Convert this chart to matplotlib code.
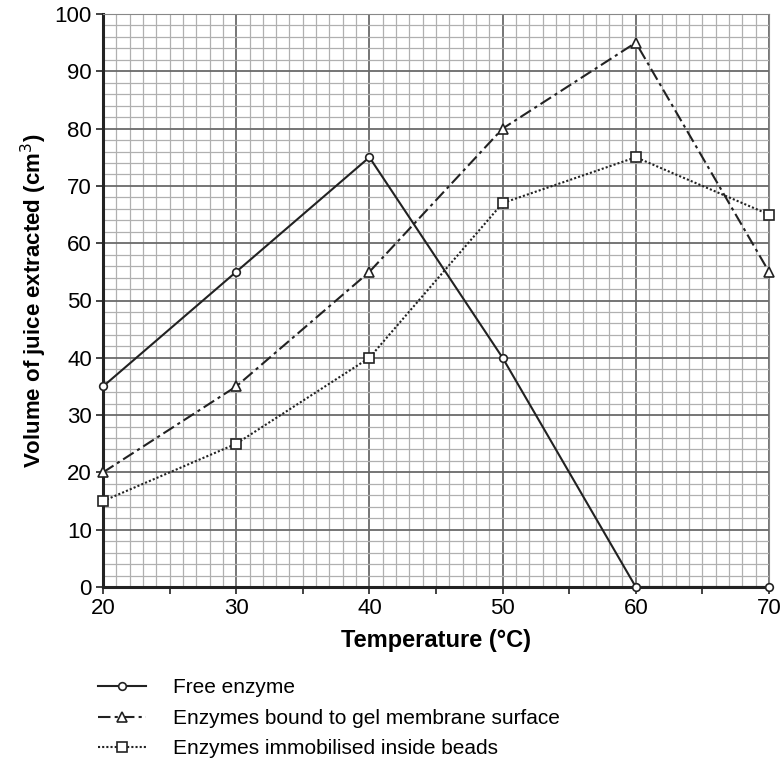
import matplotlib
matplotlib.use("Agg")
import matplotlib.pyplot as plt
from matplotlib.ticker import MultipleLocator, NullFormatter

plt.rcParams['font.family'] = ['Liberation Sans', 'DejaVu Sans']

temperature = [20, 30, 40, 50, 60, 70]
free_enzyme = [35, 55, 75, 40, 0, 0]
bound_gel = [20, 35, 55, 80, 95, 55]
beads = [15, 25, 40, 67, 75, 65]
labels = ["Free enzyme", "Enzymes bound to gel membrane surface",
          "Enzymes immobilised inside beads"]
half_ticks = [25, 35, 45, 55, 65]

fig = plt.figure(figsize=(7.84, 7.69), dpi=100)
ax = fig.add_axes([103/784, 1-587/769, 666/784, 573/769])

ax.set_xlim(20, 70)
ax.set_ylim(0, 100)
ax.xaxis.set_major_locator(MultipleLocator(10))
ax.xaxis.set_minor_locator(MultipleLocator(1))
ax.yaxis.set_major_locator(MultipleLocator(10))
ax.yaxis.set_minor_locator(MultipleLocator(2))
ax.grid(which='minor', color='#b0b0b0', linewidth=0.9)
ax.grid(which='major', color='#6a6a6a', linewidth=1.3)
ax.set_axisbelow(True)
ax.tick_params(which='minor', length=0)
ax.tick_params(which='major', length=5, width=1.2, labelsize=16, color='#222222', pad=3)
for s in ax.spines.values():
    s.set_color('#888888')
ax.spines['left'].set_color('#222222')
ax.spines['bottom'].set_color('#222222')
ax.spines['left'].set_linewidth(2.2)
ax.spines['bottom'].set_linewidth(2.2)

# small ticks at the half decades along the bottom axis
ax2 = ax.twiny()
ax2.set_xlim(ax.get_xlim())
ax2.xaxis.set_ticks_position('bottom')
ax2.set_xticks(half_ticks)
ax2.xaxis.set_major_formatter(NullFormatter())
ax2.tick_params(length=5, width=1.2, color='#222222')
for s in ax2.spines.values():
    s.set_visible(False)

mk = dict(markerfacecolor='white', markeredgecolor='#222222', markeredgewidth=1.2)
l1, = ax.plot(temperature, free_enzyme, '-', color='#222222', lw=1.5,
              marker='o', markersize=5.5, label=labels[0], **mk, clip_on=False, zorder=5)
l2, = ax.plot(temperature, bound_gel, color='#222222', lw=1.5, dashes=[6, 2, 1.5, 2],
              marker='^', markersize=7.5, label=labels[1], **mk, clip_on=False, zorder=5)
l3, = ax.plot(temperature, beads, color='#222222', lw=1.5, linestyle=(0, (1, 1)),
              marker='s', markersize=7.5, label=labels[2], **mk, clip_on=False, zorder=5)

ax.set_xlabel("Temperature (°C)", fontsize=17, fontweight='bold', labelpad=7)
ax.set_ylabel("Volume of juice extracted (cm$^3$)", fontsize=16, fontweight='bold', labelpad=4)

fig.legend(handles=[l1, l2, l3], loc='upper left', bbox_to_anchor=(90/784, 1-670/769),
           frameon=False, fontsize=15, handlelength=2.3, handletextpad=1.3,
           labelspacing=0.55, borderaxespad=0)

fig.savefig("out.png", dpi=100)
